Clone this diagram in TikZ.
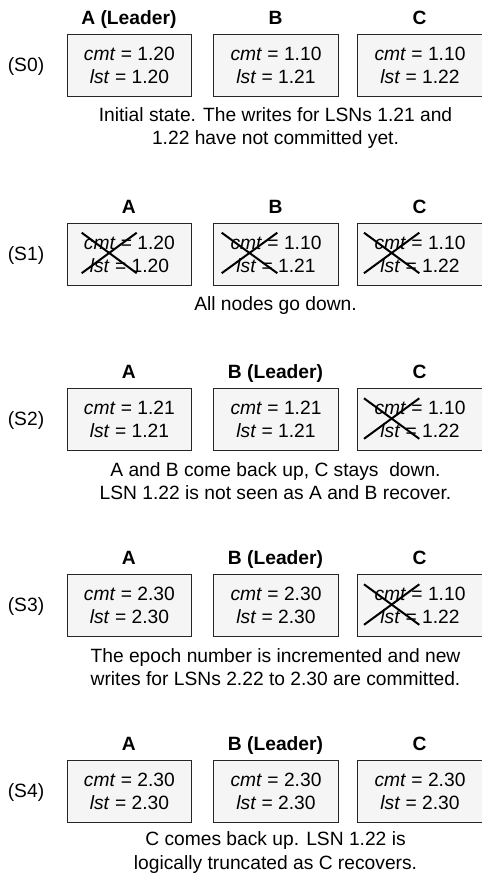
\documentclass[tikz,border=0pt]{standalone}
\usepackage{fontspec}
\setmainfont{Liberation Sans}
\usetikzlibrary{calc}
\definecolor{boxfill}{HTML}{F5F5F5}
\begin{document}
\begin{tikzpicture}[x=1bp,y=-1bp,
  every node/.style={inner sep=0pt, font=\fontsize{19.3}{23.1}\selectfont},
  nodebox/.style={draw=black!85, line width=1bp, fill=boxfill, minimum width=124.4bp,
    minimum height=62bp, align=center, anchor=north west},
  header/.style={font=\fontsize{19.3}{23.1}\selectfont\bfseries, anchor=base},
  rowlabel/.style={anchor=base},
  caption/.style={align=center, anchor=base},
  crossline/.style={line width=2bp, black}]
\useasboundingbox (0,0) rectangle (482,876);

% ---------- S0 ----------
\node[rowlabel] (l0) at (26,71.2) {(S0)};
\node[header] (h0a) at (128.9,24.2) {A (Leader)};
\node[header] (h0b) at (275.5,24.2) {B};
\node[header] (h0c) at (419.5,24.2) {C};
\node[nodebox] (s0a) at (66.7,33.7) {\textit{cmt} = 1.20\\\textit{lst} = 1.20};
\node[nodebox] (s0b) at (213.3,33.7) {\textit{cmt} = 1.10\\\textit{lst} = 1.21};
\node[nodebox] (s0c) at (357.3,33.7) {\textit{cmt} = 1.10\\\textit{lst} = 1.22};
\node[caption] (c0) at (275.5,144.8) {Initial state. The writes for LSNs 1.21 and\\1.22 have not committed yet.};

% ---------- S1 ----------
\node[rowlabel] (l1) at (26,260.2) {(S1)};
\node[header] (h1a) at (128.9,213.2) {A};
\node[header] (h1b) at (275.5,213.2) {B};
\node[header] (h1c) at (419.5,213.2) {C};
\node[nodebox] (s1a) at (66.7,222.7) {\textit{cmt} = 1.20\\\textit{lst} = 1.20};
\node[nodebox] (s1b) at (213.3,222.7) {\textit{cmt} = 1.10\\\textit{lst} = 1.21};
\node[nodebox] (s1c) at (357.3,222.7) {\textit{cmt} = 1.10\\\textit{lst} = 1.22};
\draw[crossline] ($(s1a.north west)+(15,10)$) -- ($(s1a.north west)+(70,50.5)$);
\draw[crossline] ($(s1a.north west)+(15,50.5)$) -- ($(s1a.north west)+(70,10)$);
\draw[crossline] ($(s1b.north west)+(8.4,10)$) -- ($(s1b.north west)+(64,50.5)$);
\draw[crossline] ($(s1b.north west)+(8.4,50.5)$) -- ($(s1b.north west)+(64,10)$);
\draw[crossline] ($(s1c.north west)+(6.7,10)$) -- ($(s1c.north west)+(62,50.5)$);
\draw[crossline] ($(s1c.north west)+(6.7,50.5)$) -- ($(s1c.north west)+(62,10)$);
\node[caption] (c1) at (275.5,310.7) {All nodes go down.};

% ---------- S2 ----------
\node[rowlabel] (l2) at (26,425.8) {(S2)};
\node[header] (h2a) at (128.9,378.8) {A};
\node[header] (h2b) at (275.5,378.8) {B (Leader)};
\node[header] (h2c) at (419.5,378.8) {C};
\node[nodebox] (s2a) at (66.7,388.3) {\textit{cmt} = 1.21\\\textit{lst} = 1.21};
\node[nodebox] (s2b) at (213.3,388.3) {\textit{cmt} = 1.21\\\textit{lst} = 1.21};
\node[nodebox] (s2c) at (357.3,388.3) {\textit{cmt} = 1.10\\\textit{lst} = 1.22};
\draw[crossline] ($(s2c.north west)+(6.7,10)$) -- ($(s2c.north west)+(62,50.5)$);
\draw[crossline] ($(s2c.north west)+(6.7,50.5)$) -- ($(s2c.north west)+(62,10)$);
\node[caption] (c2) at (275.5,499.4) {A and B come back up, C stays\ \ down.\\LSN 1.22 is not seen as A and B recover.};

% ---------- S3 ----------
\node[rowlabel] (l3) at (26,611.8) {(S3)};
\node[header] (h3a) at (128.9,564.8) {A};
\node[header] (h3b) at (275.5,564.8) {B (Leader)};
\node[header] (h3c) at (419.5,564.8) {C};
\node[nodebox] (s3a) at (66.7,574.3) {\textit{cmt} = 2.30\\\textit{lst} = 2.30};
\node[nodebox] (s3b) at (213.3,574.3) {\textit{cmt} = 2.30\\\textit{lst} = 2.30};
\node[nodebox] (s3c) at (357.3,574.3) {\textit{cmt} = 1.10\\\textit{lst} = 1.22};
\draw[crossline] ($(s3c.north west)+(6.7,10)$) -- ($(s3c.north west)+(62,50.5)$);
\draw[crossline] ($(s3c.north west)+(6.7,50.5)$) -- ($(s3c.north west)+(62,10)$);
\node[caption] (c3) at (275.5,685.4) {The epoch number is incremented and new\\writes for LSNs 2.22 to 2.30 are committed.};

% ---------- S4 ----------
\node[rowlabel] (l4) at (26,797.5) {(S4)};
\node[header] (h4a) at (128.9,750.5) {A};
\node[header] (h4b) at (275.5,750.5) {B (Leader)};
\node[header] (h4c) at (419.5,750.5) {C};
\node[nodebox] (s4a) at (66.7,760) {\textit{cmt} = 2.30\\\textit{lst} = 2.30};
\node[nodebox] (s4b) at (213.3,760) {\textit{cmt} = 2.30\\\textit{lst} = 2.30};
\node[nodebox] (s4c) at (357.3,760) {\textit{cmt} = 2.30\\\textit{lst} = 2.30};
\node[caption] (c4) at (275.5,869) {C comes back up. LSN 1.22 is\\logically truncated as C recovers.};
\end{tikzpicture}
\end{document}
